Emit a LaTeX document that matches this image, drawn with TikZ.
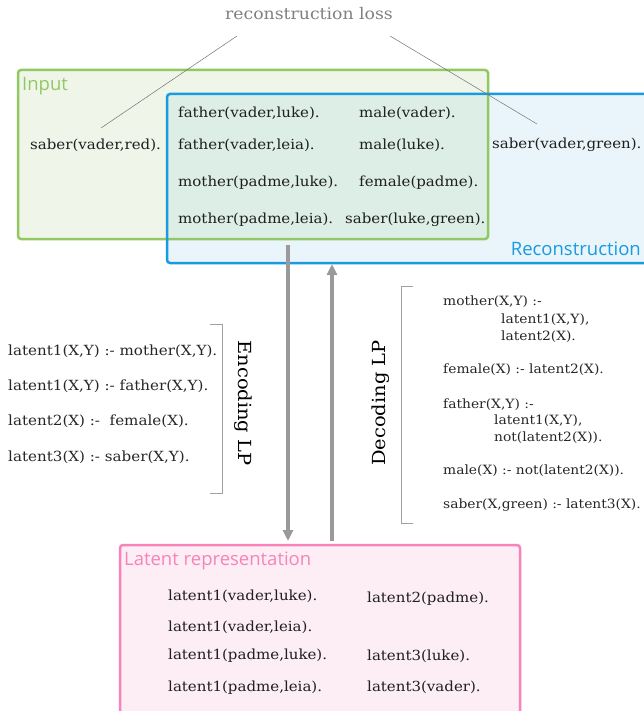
\documentclass[tikz,border=0pt]{standalone}
\usepackage{fontspec}
\setmainfont{DejaVu Serif}[FakeStretch=1.08]
\newfontfamily\labfont{Open Sans}
\usetikzlibrary{arrows.meta}
\definecolor{ingreen}{HTML}{92C862}
\definecolor{infill}{HTML}{EFF6E9}
\definecolor{recblue}{HTML}{1A9AE0}
\definecolor{recfill}{HTML}{E9F5FB}
\definecolor{ovfill}{HTML}{DDEEE6}
\definecolor{latpink}{HTML}{F783BA}
\definecolor{latfill}{HTML}{FDEEF6}
\definecolor{arrgray}{HTML}{9A9A9A}
\definecolor{thingray}{HTML}{A0A0A0}
\begin{document}
\begin{tikzpicture}[x=1pt,y=-1pt,
  txt/.style={anchor=west,inner sep=0,font=\fontsize{13.9}{16}\selectfont,text=black!88},
  rule/.style={anchor=west,inner sep=0,font=\fontsize{14}{16}\selectfont,text=black!85},
  drule/.style={anchor=west,inner sep=0,font=\fontsize{12.8}{15}\selectfont,text=black!85},
  boxlabel/.style={anchor=west,inner sep=0,font=\labfont\fontsize{18.5}{20}\selectfont},
  lpname/.style={inner sep=0,font=\fontsize{18}{20}\selectfont,text=black},
  flow/.style={draw=arrgray,line width=3.5pt,-{Triangle[length=11pt,width=10pt]}},
  thin/.style={draw=thingray,line width=0.7pt},
  rounded corners=3pt]
\useasboundingbox (0,0) rectangle (644,711);
\clip (0,0) rectangle (644,711);
% boxes
\fill[infill] (18,70) rectangle (488,239);
\fill[recfill] (167,94) rectangle (660,263);
\fill[ovfill,sharp corners] (168,95) rectangle (487,238);
\draw[ingreen,line width=2.5pt] (18,70) rectangle (488,239);
\draw[recblue,line width=2.5pt] (167,94) rectangle (660,263);
\node[boxlabel,text=ingreen] (inlab) at (22,86) {Input};
\node[boxlabel,text=recblue,anchor=east] (reclab) at (641,249) {Reconstruction};
% loss
\node[inner sep=0,font=\fontsize{16}{18}\selectfont,text=black!50] (loss) at (309,14) {reconstruction loss};
% input/recon facts
\node[txt] (red) at (30,145) {saber(vader,red).};
\node[txt] (f1) at (178,113) {father(vader,luke).};
\node[txt] (f2) at (178,145) {father(vader,leia).};
\node[txt] (m1) at (178,183) {mother(padme,luke).};
\node[txt] (m2) at (178,220) {mother(padme,leia).};
\node[txt] (ma1) at (359,113) {male(vader).};
\node[txt] (ma2) at (359,145) {male(luke).};
\node[txt] (fe) at (359,183) {female(padme).};
\node[txt] (sl) at (345,220) {saber(luke,green).};
\node[txt] (green) at (492,145) {saber(vader,green).};
\coordinate (l1) at (237,36);
\coordinate (l2) at (390,36);
\coordinate (e1) at (101,128);
\coordinate (e2) at (537,124);
\draw[thin,line width=0.5pt,draw=black!55] (l1) -- (e1);
\draw[thin,line width=0.5pt,draw=black!55] (l2) -- (e2);
% latent box
\fill[latfill] (120,545) rectangle (520,730);
\draw[latpink,line width=2.5pt] (120,545) rectangle (520,730);
\node[boxlabel,text=latpink] (latlab) at (124,561) {Latent representation};
\node[txt] (a1) at (168,596) {latent1(vader,luke).};
\node[txt] (a2) at (168,627) {latent1(vader,leia).};
\node[txt] (a3) at (168,656) {latent1(padme,luke).};
\node[txt] (a4) at (168,688) {latent1(padme,leia).};
\node[txt] (b1) at (367,599) {latent2(padme).};
\node[txt] (b2) at (367,656) {latent3(luke).};
\node[txt] (b3) at (367,687) {latent3(vader).};
% arrows
\coordinate (d0) at (288,245);
\coordinate (d1) at (288,541);
\coordinate (u0) at (332,541);
\coordinate (u1) at (332,264);
\draw[flow,sharp corners] (d0) -- (d1);
\draw[flow,sharp corners] (u0) -- (u1);
% encoding LP
\node[rule] (r1) at (8,351) {latent1(X,Y) :- mother(X,Y).};
\node[rule] (r2) at (8,386) {latent1(X,Y) :- father(X,Y).};
\node[rule] (r3) at (8,421) {latent2(X) :-\ \ female(X).};
\node[rule] (r4) at (8,457) {latent3(X) :- saber(X,Y).};
\draw[thin,sharp corners] (210,324) -- (222,324) -- (222,493) -- (210,493);
\node[lpname,rotate=-90] (enc) at (243,403) {Encoding LP};
% decoding LP
\draw[thin,sharp corners] (413,286) -- (401,286) -- (401,523) -- (413,523);
\node[lpname,rotate=90] (dec) at (381,403) {Decoding LP};
\node[drule] (s1) at (443,302) {mother(X,Y) :-};
\node[drule] (s1a) at (501,320) {latent1(X,Y),};
\node[drule] (s1b) at (501,337) {latent2(X).};
\node[drule] (s2) at (443,370) {female(X) :- latent2(X).};
\node[drule] (s3) at (443,405) {father(X,Y) :-};
\node[drule] (s3a) at (494,421) {latent1(X,Y),};
\node[drule] (s3b) at (494,438) {not(latent2(X)).};
\node[drule] (s4) at (443,471) {male(X) :- not(latent2(X)).};
\node[drule] (s5) at (443,505) {saber(X,green) :- latent3(X).};
\end{tikzpicture}
\end{document}
